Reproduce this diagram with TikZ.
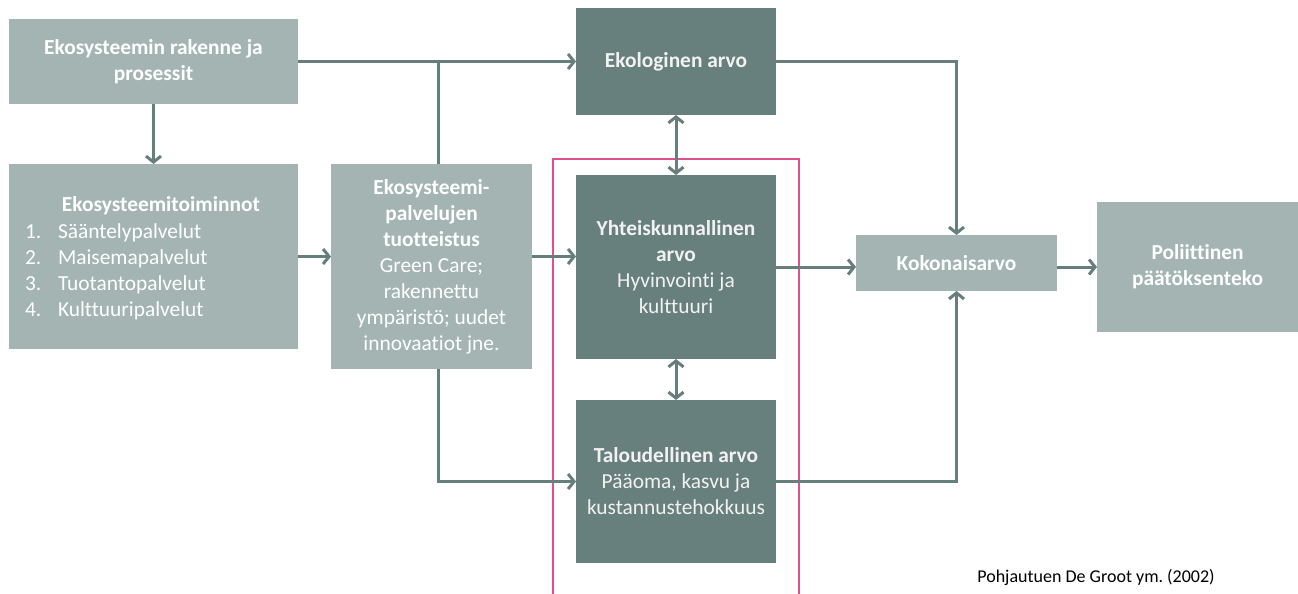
\documentclass[tikz,border=0pt]{standalone}
\usepackage{fontspec}
\setmainfont{Carlito}[Ligatures={NoCommon}]
\frenchspacing
\usetikzlibrary{arrows.meta}
\definecolor{lboxc}{RGB}{163,180,178}
\definecolor{dboxc}{RGB}{103,127,125}
\definecolor{lnc}{RGB}{102,126,124}
\definecolor{pinkc}{RGB}{224,80,145}
\definecolor{dtext}{RGB}{242,242,242}
\tikzset{
  box/.style={rectangle, inner sep=0pt, outer sep=0pt, align=center, font=\fontsize{21.4}{26}\selectfont},
  lightbox/.style={box, fill=lboxc, text=white},
  darkbox/.style={box, fill=dboxc, text=dtext},
  txt/.style={inner sep=0pt, outer sep=0pt, text=white, font=\fontsize{21.4}{26}\selectfont},
  conn/.style={draw=lnc, line width=3pt},
  arr/.style={conn, -{Straight Barb[length=6pt,width=15pt]}},
  darr/.style={conn, {Straight Barb[length=6pt,width=15pt]}-{Straight Barb[length=6pt,width=15pt]}},
  frame/.style={draw=pinkc, line width=2.5pt}
}
\begin{document}
\begin{tikzpicture}[x=1pt,y=-1pt]
\useasboundingbox (0,0) rectangle (1298,594);
\fill[white] (0,0) rectangle (1298,594);

% boxes
\node[lightbox, minimum width=289, minimum height=85] (A) at (153.5,61.5)
  {\bfseries Ekosysteemin rakenne ja\\\bfseries prosessit};
\node[lightbox, minimum width=289, minimum height=185] (B) at (153.5,256.5) {};
\node[txt, anchor=base] (Bt) at (161,211) {\bfseries Ekosysteemitoiminnot};
\node[txt, anchor=base west] (B1n) at (25,238) {1.};
\node[txt, anchor=base west] (B1) at (58,238) {Sääntelypalvelut};
\node[txt, anchor=base west] (B2n) at (25,264) {2.};
\node[txt, anchor=base west] (B2) at (58,264) {Maisemapalvelut};
\node[txt, anchor=base west] (B3n) at (25,290) {3.};
\node[txt, anchor=base west] (B3) at (58,290) {Tuotantopalvelut};
\node[txt, anchor=base west] (B4n) at (25,316) {4.};
\node[txt, anchor=base west] (B4) at (58,316) {Kulttuuripalvelut};

\node[lightbox, minimum width=201, minimum height=205] (C) at (431.5,266.5)
  {\bfseries Ekosysteemi-\\\bfseries palvelujen\\\bfseries tuotteistus\\Green Care;\\rakennettu\\ympäristö; uudet\\innovaatiot jne.};

\node[darkbox, minimum width=200, minimum height=107] (E) at (676,61.5)
  {\bfseries Ekologinen arvo};
\node[darkbox, minimum width=200, minimum height=184] (Y) at (676,267)
  {\bfseries Yhteiskunnallinen\\\bfseries arvo\\Hyvinvointi ja\\kulttuuri};
\node[darkbox, minimum width=200, minimum height=163] (T) at (676,481.5)
  {\bfseries Taloudellinen arvo\\Pääoma, kasvu ja\\kustannustehokkuus};

\node[lightbox, minimum width=201, minimum height=56] (K) at (956.5,263)
  {\bfseries Kokonaisarvo};
\node[lightbox, minimum width=201, minimum height=130] (P) at (1197.5,267)
  {\bfseries Poliittinen\\\bfseries päätöksenteko};

\node[inner sep=0pt, anchor=base, font=\fontsize{18}{20}\selectfont] (src) at (1096,582)
  {Pohjautuen De Groot ym. (2002)};

% pink frame
\draw[frame] (553,594) -- (553,159) -- (799,159) -- (799,594);

% connectors
\coordinate (J) at (438,61.5);
\draw[arr] (A) -- (B);
\draw[arr] (A.east) -- (E.west);
\draw[conn] (J) -- (J |- C.north);
\draw[arr] (B.east) -- (B.east -| C.west);
\draw[arr] (C.east |- B.east) -- (Y.west |- B.east);
\draw[arr] (J |- C.south) |- (T.west);
\draw[darr] (E) -- (Y);
\draw[darr] (Y) -- (T);
\draw[arr] (E.east) -| (K.north);
\draw[arr] (Y.east) -- (Y.east -| K.west);
\draw[arr] (T.east) -| (K.south);
\draw[arr] (K.east |- P.west) -- (P.west);
\end{tikzpicture}
\end{document}
